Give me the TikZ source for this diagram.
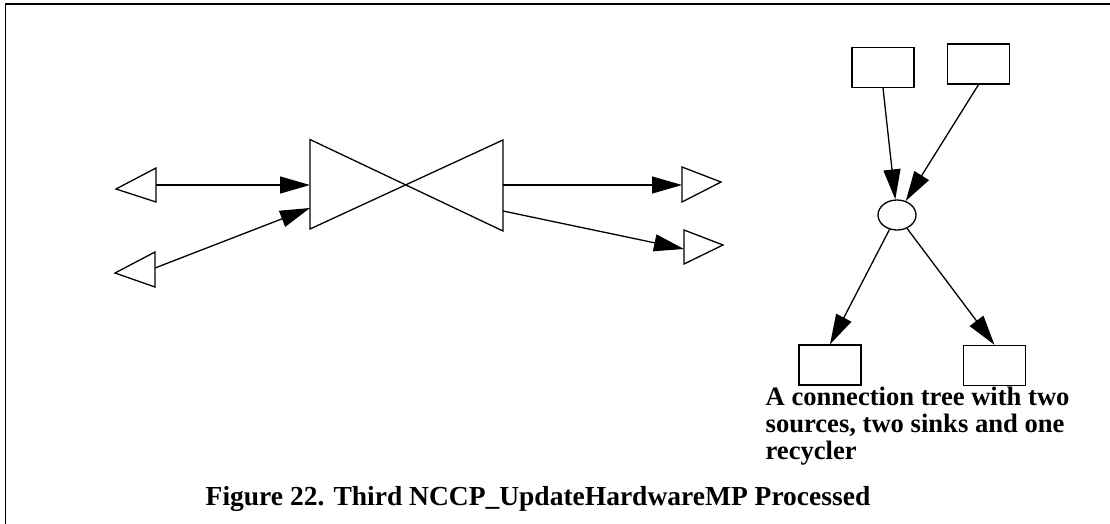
\documentclass[tikz,border=0pt]{standalone}
\usepackage{fontspec}
\setmainfont{Liberation Serif}
\usetikzlibrary{arrows.meta,shapes.geometric}
\begin{document}
\begin{tikzpicture}[x=1pt,y=-1pt,line width=1.3pt,
  box/.style={draw,minimum width=62pt,minimum height=40pt,inner sep=0pt},
  rec/.style={draw,ellipse,minimum width=38pt,minimum height=30pt,inner sep=0pt},
  arr/.style={-{Triangle[length=30pt,width=17pt]}},
  lbl/.style={font=\fontsize{26.6}{27}\selectfont\bfseries,anchor=base west,inner sep=0pt},
  figcaption/.style={font=\fontsize{27.5}{28}\selectfont\bfseries,anchor=base,inner sep=0pt}]
\useasboundingbox (0,0) rectangle (1110,524);
% page frame (top and left edges)
\draw[line width=1.5pt] (5.5,524) -- (5.5,4) -- (1110,4);

% left-hand side: sources, bowtie, sinks
\draw (156,168) -- (156,202) -- (116,189) -- cycle;
\draw (155,252) -- (155,287) -- (115,273) -- cycle;
\coordinate (s1) at (156,185);
\coordinate (s2) at (155,268);

\draw (310,139.5) -- (503,231) -- (503,140) -- (310,229) -- cycle;
\coordinate (bwl1) at (310,185);
\coordinate (bwl2) at (310,208);
\coordinate (bwr1) at (503,185);
\coordinate (bwr2) at (503,211);

\draw (682,167) -- (682,202) -- (721,182) -- cycle;
\draw (684,230) -- (684,264) -- (723,245) -- cycle;
\coordinate (k1) at (682,185);
\coordinate (k2) at (684,249);

\draw[arr] (s1) -- (bwl1);
\draw[arr] (s2) -- (bwl2);
\draw[arr] (bwr1) -- (k1);
\draw[arr] (bwr2) -- (k2);

% right-hand side: connection tree
\node[box] (tl) at (883,67.5) {};
\node[box] (tr) at (978.5,64) {};
\node[rec] (rc) at (897,215) {};
\node[box] (bl) at (830,365) {};
\node[box] (br) at (994.5,365.5) {};

\draw[arr] (tl.south) -- (rc);
\draw[arr] (tr.south) -- (rc);
\draw[arr] (rc) -- (bl.north);
\draw[arr] (rc) -- (br.north);

\node[lbl] (n1) at (765,405) {A connection tree with two};
\node[lbl] (n2) at (765,432) {sources, two sinks and one};
\node[lbl] (n3) at (765,459) {recycler};

\node[figcaption] (caption) at (538,505) {Figure 22. Third NCCP\_UpdateHardwareMP Processed};
\end{tikzpicture}
\end{document}
